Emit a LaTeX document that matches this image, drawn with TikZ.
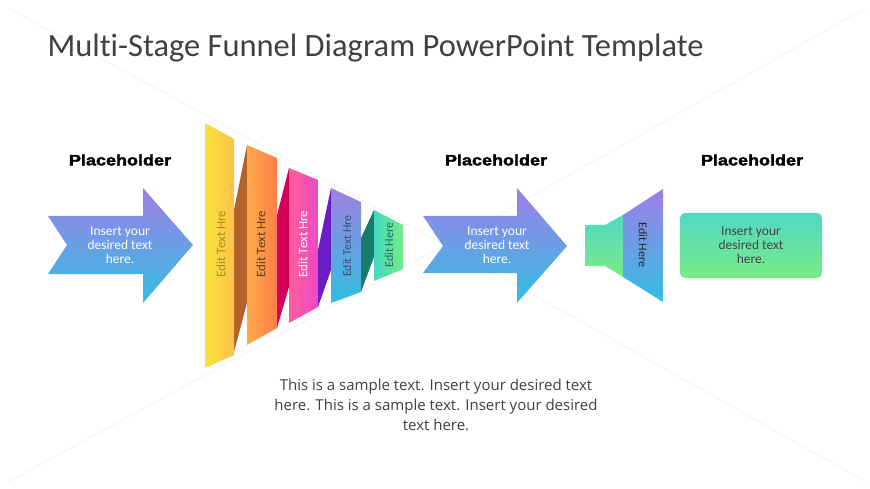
\documentclass[tikz,border=0pt]{standalone}
\usepackage{fontspec}
\setmainfont[Ligatures=NoCommon]{Carlito}
\newfontfamily\headfont[FakeStretch=1.2,FakeBold=2.5]{Liberation Sans Bold}
\newfontfamily\bodyfont{Open Sans}
\usetikzlibrary{positioning,calc}

\definecolor{titlegray}{HTML}{404040}
\definecolor{arrowtop}{HTML}{9F7EE8}
\definecolor{arrowbot}{HTML}{33BFE2}
\definecolor{yelL}{HTML}{F8E43A}
\definecolor{yelR}{HTML}{FCC24A}
\definecolor{oraL}{HTML}{FDAA4E}
\definecolor{oraR}{HTML}{FD7E47}
\definecolor{pinL}{HTML}{FF5E9C}
\definecolor{pinR}{HTML}{EC4AC6}
\definecolor{purT}{HTML}{A080E2}
\definecolor{purB}{HTML}{30C0E0}
\definecolor{grnL}{HTML}{46D8C2}
\definecolor{grnR}{HTML}{72EA88}
\definecolor{foldA}{HTML}{B4622C}
\definecolor{foldB}{HTML}{D6005A}
\definecolor{foldC}{HTML}{6A1DC4}
\definecolor{foldD}{HTML}{167D6A}
\definecolor{mintT}{HTML}{50D8C4}
\definecolor{mintB}{HTML}{7AEC86}
\definecolor{darktxt}{HTML}{444444}
\definecolor{goldtxt}{HTML}{A8901E}
\definecolor{browntxt}{HTML}{5A4416}
\definecolor{bluetxt}{HTML}{3C4C78}
\definecolor{tealtxt}{HTML}{2E6A5A}

\begin{document}
\begin{tikzpicture}[
  x=1pt, y=-1pt,
  font=\fontsize{13.5}{14}\selectfont,
  hdr/.style={font=\headfont\fontsize{15}{18}\selectfont, text=black},
  arrowfill/.style={top color=arrowtop, bottom color=arrowbot},
  infotxt/.style={align=center, inner sep=0pt},
  stagetxt/.style={rotate=90, inner sep=0pt, font=\fontsize{13}{14}\selectfont},
  bgline/.style={draw=black!5, line width=0.8pt}
]
  \useasboundingbox (0,0) rectangle (870,489);

  % faint backdrop lines
  \coordinate (mid) at (445,245);
  \draw[bgline] (8,8) -- (mid) -- (866,8);
  \draw[bgline] (8,482) -- (mid) -- (866,482);

  \node[anchor=base west, text=titlegray, font=\fontsize{32.5}{36}\selectfont] (title) at (44,57)
    {Multi-Stage Funnel Diagram PowerPoint Template};

  % first arrow
  \shade[arrowfill] (48,216) -- (143,216) -- (143,188) -- (193,245) -- (143,303)
    -- (143,274) -- (48,274) -- (67,245) -- cycle;
  \node[infotxt, text=white] (in1) at (120,245) {Insert your\\desired text\\here.};
  \node[hdr] (ph1) at (120,160) {Placeholder};

  % funnel folds
  \fill[foldA] (234,210) -- (247,145) -- (247,303) -- (234,352) -- cycle;
  \fill[foldB] (277,215) -- (289,168) -- (289,287) -- (277,328) -- cycle;
  \fill[foldC] (318,250) -- (331,188) -- (331,270) -- (318,307) -- cycle;
  \fill[foldD] (361,238) -- (374,210) -- (374,257) -- (361,292) -- cycle;

  % funnel panels
  \shade[left color=yelL, right color=yelR] (205,123) -- (234,139) -- (234,355) -- (205,368) -- cycle;
  \shade[left color=oraL, right color=oraR] (247,145) -- (277,158) -- (277,328) -- (247,345) -- cycle;
  \shade[left color=pinL, right color=pinR] (289,168) -- (318,180) -- (318,307) -- (289,323) -- cycle;
  \shade[shading angle=-30, top color=purT, bottom color=purB] (331,188) -- (361,202) -- (361,292) -- (331,303) -- cycle;
  \shade[left color=grnL, right color=grnR] (374,210) -- (403,225) -- (403,269) -- (374,281) -- cycle;

  \node[stagetxt, text=goldtxt] (s1) at (221,244) {Edit Text Hre};
  \node[stagetxt, text=browntxt] (s2) at (261,244) {Edit Text Hre};
  \node[stagetxt, text=white] (s3) at (303,244) {Edit Text Hre};
  \node[stagetxt, text=bluetxt, font=\fontsize{12}{14}\selectfont] (s4) at (347,246) {Edit Text Hre};
  \node[stagetxt, text=tealtxt, font=\fontsize{12}{14}\selectfont] (s5) at (389,245) {Edit Here};

  % second arrow
  \shade[arrowfill] (423,216) -- (517,216) -- (517,188) -- (567,246) -- (517,303)
    -- (517,273) -- (423,273) -- (443,246) -- cycle;
  \node[infotxt, text=white] (in2) at (497,245) {Insert your\\desired text\\here.};
  \node[hdr] (ph2) at (496,160) {Placeholder};

  % small end funnel
  \shade[top color=mintT, bottom color=mintB] (585,225) -- (605,225) -- (623,215) -- (623,277)
    -- (605,266) -- (585,266) -- cycle;
  \shade[arrowfill] (623,215) -- (663,189) -- (663,302) -- (623,277) -- cycle;
  \node[rotate=-90, inner sep=0pt, text=black!85, font=\fontsize{12}{14}\selectfont] (s6) at (643,245) {Edit Here};

  % result box
  \shade[top color=mintT, bottom color=mintB, rounded corners=5pt] (680,213) rectangle (822,278);
  \node[infotxt, text=darktxt] (in3) at (751,245) {Insert your\\desired text\\here.};
  \node[hdr] (ph3) at (752,160) {Placeholder};

  \node[align=center, text=titlegray, font=\bodyfont\fontsize{15}{20}\selectfont] (note) at (436,405)
    {This is a sample text. Insert your desired text\\here. This is a sample text. Insert your desired\\text here.};
\end{tikzpicture}
\end{document}
